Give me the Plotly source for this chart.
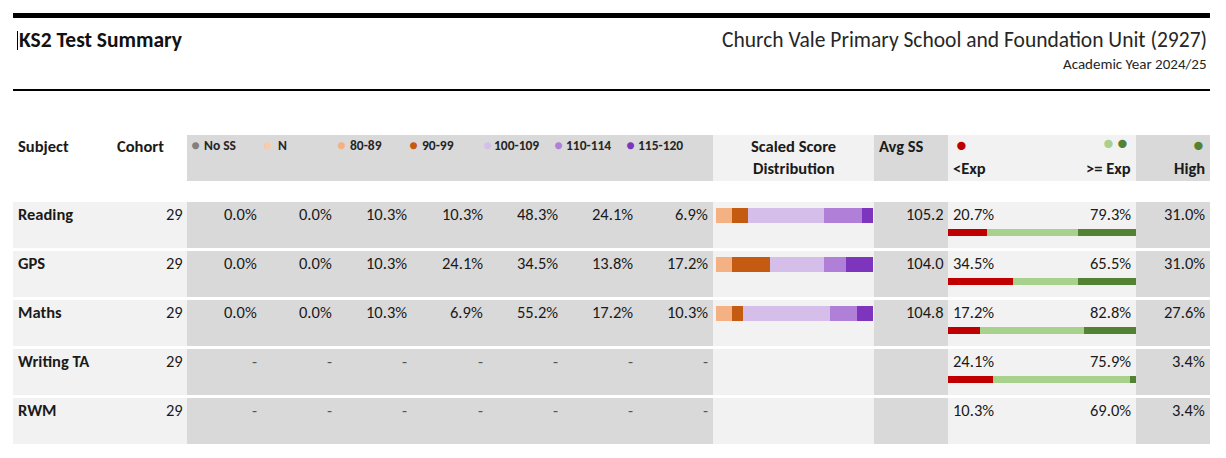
import plotly.graph_objects as go

# ---- data ----
subjects = ["Reading", "GPS", "Maths", "Writing TA", "RWM"]
cohort = [29, 29, 29, 29, 29]

band_names = ["No SS", "N", "80-89", "90-99", "100-109", "110-114", "115-120"]
band_colors = ["#808080", "#F8CBAD", "#F4B183", "#C55A11", "#D5BEEA", "#B07FD8", "#7E35BE"]

no_ss = [0.0, 0.0, 0.0, None, None]
n_pct = [0.0, 0.0, 0.0, None, None]
ss_80_89 = [10.3, 10.3, 10.3, None, None]
ss_90_99 = [10.3, 24.1, 6.9, None, None]
ss_100_109 = [48.3, 34.5, 55.2, None, None]
ss_110_114 = [24.1, 13.8, 17.2, None, None]
ss_115_120 = [6.9, 17.2, 10.3, None, None]

avg_ss = [105.2, 104.0, 104.8, None, None]
below_exp = [20.7, 34.5, 17.2, 24.1, 10.3]
at_exp = [79.3, 65.5, 82.8, 75.9, 69.0]
high = [31.0, 31.0, 27.6, 3.4, 3.4]

band_values = [no_ss, n_pct, ss_80_89, ss_90_99, ss_100_109, ss_110_114, ss_115_120]

W, H = 1226, 458
FONT = "Carlito, Calibri, Lato, sans-serif"
DARK = "#D9D9D9"
LIGHT = "#F2F2F2"
BODY = 16.5


def px(x):
    return x / W


def py(y):
    return 1 - y / H


def fmt_pct(v):
    return "-" if v is None else f"{v:.1f}%"


fig = go.Figure()

# scaled score distribution bars
for name, col, vals in zip(band_names, band_colors, band_values):
    fig.add_trace(go.Bar(
        y=subjects, x=vals, orientation="h", name=name,
        marker=dict(color=col, line=dict(width=0)),
        width=0.31, xaxis="x", yaxis="y", hoverinfo="skip", showlegend=False
    ))

# expected standard bars (only where the split adds up)
shown = [abs(b + a - 100) < 0.5 for b, a in zip(below_exp, at_exp)]
exp_red = [b if s else None for b, s in zip(below_exp, shown)]
exp_light = [round(a - h, 1) if s else None for a, h, s in zip(at_exp, high, shown)]
exp_dark = [h if s else None for h, s in zip(high, shown)]
for vals, col in [(exp_red, "#C00000"), (exp_light, "#A9D18E"), (exp_dark, "#548235")]:
    fig.add_trace(go.Bar(
        y=subjects, x=vals, orientation="h",
        marker=dict(color=col, line=dict(width=0)),
        width=0.15, xaxis="x2", yaxis="y2", hoverinfo="skip", showlegend=False
    ))

shapes = []
annotations = []


def rect(x0, x1, y0, y1, color):
    shapes.append(dict(type="rect", xref="paper", yref="paper", layer="below",
                       x0=px(x0), x1=px(x1), y0=py(y1), y1=py(y0),
                       fillcolor=color, line=dict(width=0)))


def text(x, y, s, anchor="left", size=BODY, bold=False, color="#1A1A1A"):
    if bold:
        s = "<b>" + s + "</b>"
    annotations.append(dict(xref="paper", yref="paper", x=px(x), y=py(y), text=s,
                            xanchor=anchor, yanchor="middle", showarrow=False,
                            font=dict(family=FONT, size=size, color=color)))


# page header
rect(13, 1210, 13, 18, "#000000")
rect(13, 1210, 89, 91, "#000000")
rect(17, 18, 31, 50, "#000000")
text(17, 40, "KS2 Test Summary", size=21.5, bold=True, color="#111111")
text(1209, 40, "Church Vale Primary School and Foundation Unit (2927)", anchor="right",
     size=21.5, color="#262626")
text(1209, 64, "Academic Year 2024/25", anchor="right", size=15, color="#262626")

# column blocks: (left, right, colour)
blocks = [(187, 713, DARK), (713, 874, LIGHT), (874, 948, DARK),
          (948, 1136, LIGHT), (1136, 1210, DARK)]
for x0, x1, c in blocks:
    rect(x0, x1, 135, 181, c)

row_top = [202 + 49 * i for i in range(len(subjects))]
for top in row_top:
    rect(13, 187, top, top + 46, LIGHT)
    for x0, x1, c in blocks:
        rect(x0, x1, top, top + 46, c)

# table header
text(16, 146, "Subject", bold=True)
text(115, 146, "Cohort", bold=True)
dot_x = [195, 267, 341, 413, 487, 558, 630]
lab_x = [202, 276, 348, 420, 492, 564, 636]
for name, col, dx, lx in zip(band_names, band_colors, dot_x, lab_x):
    text(dx, 145, "●", anchor="center", size=15, color=col)
    text(lx, 146, name, size=13.5, bold=True, color="#262626")
text(794, 146, "Scaled Score", anchor="center", bold=True)
text(794, 168, "Distribution", anchor="center", bold=True)
text(877, 146, "Avg SS", bold=True)
text(961, 145, "●", anchor="center", size=18, color="#C00000")
text(1108, 143, "●", anchor="center", size=18, color="#A9D18E")
text(1122, 143, "●", anchor="center", size=18, color="#548235")
text(1198, 145, "●", anchor="center", size=18, color="#548235")
text(951, 168, "<Exp", bold=True)
text(1133, 168, ">= Exp", anchor="right", bold=True)
text(1207, 168, "High", anchor="right", bold=True)

# table body
col_right = [259 + 75.2 * i for i in range(len(band_names))]
for i, subj in enumerate(subjects):
    yc = row_top[i] + 12
    text(16, yc, subj, bold=True)
    text(185, yc, str(cohort[i]), anchor="right")
    for j, vals in enumerate(band_values):
        v = vals[i]
        text(col_right[j], yc, fmt_pct(v), anchor="right",
             color="#1A1A1A" if v is not None else "#555555")
    if avg_ss[i] is not None:
        text(946, yc, f"{avg_ss[i]:.1f}", anchor="right")
    text(951, yc, fmt_pct(below_exp[i]))
    text(1133, yc, fmt_pct(at_exp[i]), anchor="right")
    text(1207, yc, fmt_pct(high[i]), anchor="right")

fig.update_layout(
    width=W, height=H,
    margin=dict(l=0, r=0, t=0, b=0),
    paper_bgcolor="white", plot_bgcolor="rgba(0,0,0,0)",
    barmode="stack", bargap=0,
    shapes=shapes, annotations=annotations,
    xaxis=dict(domain=[px(716), px(873)], range=[0, 100], visible=False, fixedrange=True),
    yaxis=dict(domain=[py(436), py(191)], range=[4.5, -0.5], type="category",
               categoryorder="array", categoryarray=subjects, visible=False, fixedrange=True),
    xaxis2=dict(domain=[px(948), px(1136)], range=[0, 100], visible=False, fixedrange=True,
                anchor="y2"),
    yaxis2=dict(domain=[py(453), py(208)], range=[4.5, -0.5], type="category",
                categoryorder="array", categoryarray=subjects, visible=False,
                fixedrange=True, anchor="x2"),
)

# the page itself should carry no default body margin
fig.write_html("out.html", config={"displayModeBar": False},
               post_script="document.body.style.margin='0';")
